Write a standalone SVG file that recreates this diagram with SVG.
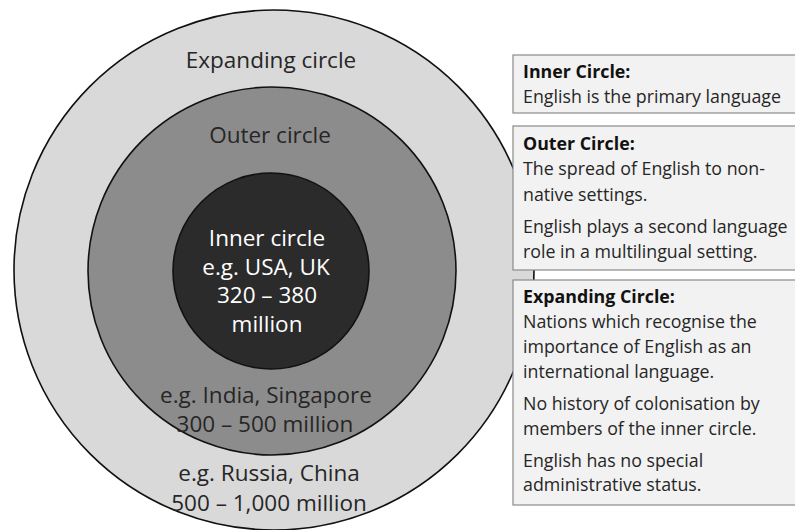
<svg xmlns="http://www.w3.org/2000/svg" width="795" height="530" viewBox="0 0 795 530">
  <style>
    .ring { stroke: #111; stroke-width: 1.6; }
    .lbl { font-family: "Open Sans", Lato, "Liberation Sans", sans-serif; font-size: 22.5px; text-anchor: middle; fill: #262626; }
    .lbl.w { fill: #ffffff; }
    .box { fill: #f2f2f2; stroke: #8a8a8a; stroke-width: 1.2; }
    .bt { font-family: "Open Sans", Lato, "Liberation Sans", sans-serif; font-size: 17.8px; fill: #262626; }
    .bt.h { font-weight: bold; fill: #111; }
  </style>
  <rect width="795" height="530" fill="#ffffff"/>
  <g id="expanding-circle">
    <circle class="ring" cx="274" cy="270" r="260" fill="#d9d9d9"/>
    <text class="lbl" x="271" y="68">Expanding circle</text>
    <text class="lbl" x="269" y="481">e.g. Russia, China</text>
    <text class="lbl" x="269" y="511">500 – 1,000 million</text>
  </g>
  <g id="outer-circle">
    <circle class="ring" cx="272" cy="271" r="184" fill="#8c8c8c"/>
    <text class="lbl" x="270" y="143">Outer circle</text>
    <text class="lbl" x="266" y="403">e.g. India, Singapore</text>
    <text class="lbl" x="265" y="432">300 – 500 million</text>
  </g>
  <g id="inner-circle">
    <circle class="ring" cx="271" cy="271" r="98" fill="#2b2b2b"/>
    <text class="lbl w" x="267" y="246">Inner circle</text>
    <text class="lbl w" x="266" y="275">e.g. USA, UK</text>
    <text class="lbl w" x="267" y="303">320 – 380</text>
    <text class="lbl w" x="267" y="332">million</text>
  </g>
  <g id="connectors"></g>
  <g id="box-inner">
    <rect class="box" x="513" y="55" width="290" height="58"/>
    <text class="bt h" x="523" y="78">Inner Circle:</text>
    <text class="bt" x="523" y="103">English is the primary language</text>
  </g>
  <g id="box-outer">
    <rect class="box" x="513" y="126" width="290" height="144"/>
    <text class="bt h" x="523" y="150">Outer Circle:</text>
    <text class="bt" x="523" y="175">The spread of English to non-</text>
    <text class="bt" x="523" y="201">native settings.</text>
    <text class="bt" x="523" y="233">English plays a second language</text>
    <text class="bt" x="523" y="258">role in a multilingual setting.</text>
  </g>
  <g id="box-expanding">
    <rect class="box" x="513" y="280" width="290" height="225"/>
    <text class="bt h" x="523" y="303">Expanding Circle:</text>
    <text class="bt" x="523" y="328">Nations which recognise the</text>
    <text class="bt" x="523" y="353">importance of English as an</text>
    <text class="bt" x="523" y="378">international language.</text>
    <text class="bt" x="523" y="410">No history of colonisation by</text>
    <text class="bt" x="523" y="435">members of the inner circle.</text>
    <text class="bt" x="523" y="467">English has no special</text>
    <text class="bt" x="523" y="491">administrative status.</text>
  </g>
</svg>
